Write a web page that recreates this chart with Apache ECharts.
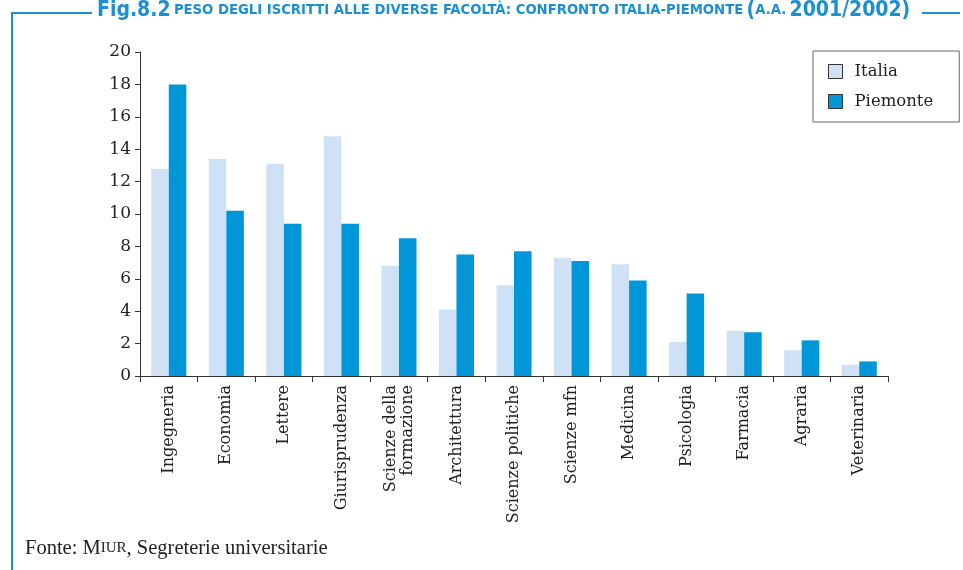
<!DOCTYPE html>
<html><head><meta charset="utf-8">
<script src="https://cdn.jsdelivr.net/npm/echarts@6/dist/echarts.min.js"></script>
<style>html,body{margin:0;padding:0;background:#fff}#c{width:963px;height:570px}</style>
</head><body><div id="c"></div>
<script>
const categories = ['Ingegneria','Economia','Lettere','Giurisprudenza','Scienze della\nformazione','Architettura','Scienze politiche','Scienze mfn','Medicina','Psicologia','Farmacia','Agraria','Veterinaria'];
const italia = [12.8, 13.4, 13.1, 14.8, 6.8, 4.1, 5.6, 7.3, 6.9, 2.1, 2.8, 1.6, 0.7];
const piemonte = [18.0, 10.2, 9.4, 9.4, 8.5, 7.5, 7.7, 7.1, 5.9, 5.1, 2.7, 2.2, 0.9];
const yTicks = {min: 0, max: 20, interval: 2};

const blue = '#1b8fd2';
const serif = '"DejaVu Serif", "Liberation Serif", serif';
const sansC = '"DejaVu Sans Condensed", "DejaVu Sans", sans-serif';
const chart = echarts.init(document.getElementById('c'));
chart.setOption({
  animation: false,
  grid: {left: 140, right: 75, top: 52, bottom: 194},
  legend: {
    left: 813, top: 51, orient: 'vertical',
    padding: [12, 26, 12, 15], itemGap: 13,
    itemWidth: 14, itemHeight: 14, icon: 'rect',
    itemStyle: {borderColor: '#333', borderWidth: 1},
    borderColor: '#666', borderWidth: 1,
    textStyle: {fontFamily: serif, fontSize: 16.5, color: '#222', padding: [0, 0, 0, 7]},
    data: ['Italia', 'Piemonte']
  },
  xAxis: {
    type: 'category', data: categories,
    axisLine: {lineStyle: {color: '#333', width: 1}},
    axisTick: {show: true, length: 6, lineStyle: {color: '#333'}},
    axisLabel: {rotate: 90, interval: 0, fontFamily: serif, fontSize: 16, color: '#222', margin: 9, lineHeight: 17}
  },
  yAxis: {
    type: 'value', min: yTicks.min, max: yTicks.max, interval: yTicks.interval,
    splitLine: {show: false},
    axisLine: {show: true, lineStyle: {color: '#333', width: 1}},
    axisTick: {show: true, length: 5, lineStyle: {color: '#333'}},
    axisLabel: {fontFamily: serif, fontSize: 17, color: '#222', margin: 9}
  },
  series: [
    {name: 'Italia', type: 'bar', data: italia, barGap: '0%', barCategoryGap: '39%',
     itemStyle: {color: '#cfe2f5'}},
    {name: 'Piemonte', type: 'bar', data: piemonte, barGap: '0%', barCategoryGap: '39%',
     itemStyle: {color: '#0096d8'}}
  ],
  graphic: [
    {type: 'line', shape: {x1: 12, y1: 13, x2: 92, y2: 13}, style: {stroke: blue, lineWidth: 2}},
    {type: 'line', shape: {x1: 922, y1: 13, x2: 960, y2: 13}, style: {stroke: blue, lineWidth: 2}},
    {type: 'line', shape: {x1: 12, y1: 12, x2: 12, y2: 570}, style: {stroke: blue, lineWidth: 2}},
    {type: 'text', left: 97, top: 0, style: {
      text: '{a|Fig.8.2} {b|PESO DEGLI ISCRITTI ALLE DIVERSE FACOLTÀ: CONFRONTO ITALIA-PIEMONTE} {a|(}{b|A.A.} {a|2001/2002)}',
      rich: {
        a: {fontFamily: sansC, fontWeight: 'bold', fontSize: 21, fill: blue},
        b: {fontFamily: sansC, fontWeight: 'bold', fontSize: 14.7, fill: blue}
      }
    }},
    {type: 'text', left: 25, top: 538, style: {
      text: '{a|Fonte: M}{b|IUR}{a|, Segreterie universitarie}',
      rich: {
        a: {fontFamily: '"Liberation Serif", serif', fontSize: 20.5, fill: '#222'},
        b: {fontFamily: '"Liberation Serif", serif', fontSize: 15, fill: '#222'}
      }
    }}
  ]
});
</script></body></html>
